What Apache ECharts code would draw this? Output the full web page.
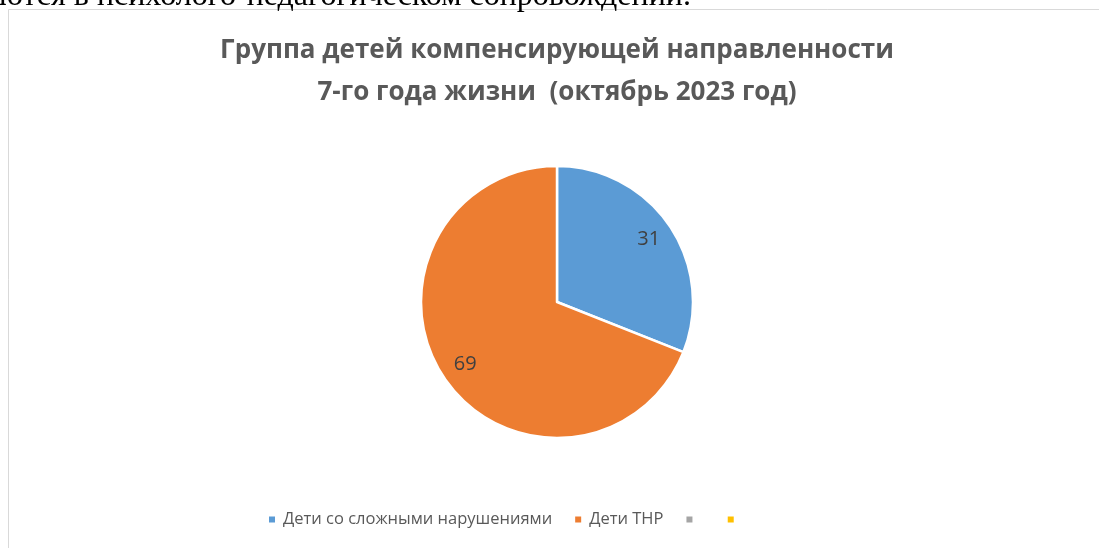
<!DOCTYPE html>
<html>
<head>
<meta charset="utf-8">
<script src="https://cdn.jsdelivr.net/npm/echarts@6/dist/echarts.min.js"></script>
<style>
html,body{margin:0;padding:0;background:#fff;}
#chart{width:1099px;height:548px;}
</style>
</head>
<body>
<div id="chart"></div>
<script>
const titleLines = ['Группа детей компенсирующей направленности', '7-го года жизни  (октябрь 2023 год)'];
const categories = ['Дети со сложными нарушениями', 'Дети ТНР', ' ', '  '];
const values = [31, 69, '-', '-'];
const colors = ['#5B9BD5', '#ED7D31', '#A5A5A5', '#FFC000'];
const pageText = 'ются в психолого-педагогическом сопровождении.';

const FONT = '"Open Sans", "Noto Sans", sans-serif';
const pieData = categories.map((c, i) => ({ name: c, value: values[i], itemStyle: { color: colors[i] } }));
const labelData = categories.map((c, i) => ({ name: c, value: values[i] }));

const chart = echarts.init(document.getElementById('chart'), null, { renderer: 'canvas' });
chart.setOption({
  backgroundColor: '#fff',
  animation: false,
  graphic: [
    { type: 'rect', shape: { x: 8.5, y: 9.5, width: 1200, height: 700 },
      style: { fill: 'none', stroke: '#D9D9D9', lineWidth: 1 }, silent: true, z: -10 },
    { type: 'text', x: -1, y: -19,
      style: { text: pageText, font: '32px "Liberation Serif", "DejaVu Serif", serif', fill: '#000' }, silent: true }
  ],
  title: {
    text: titleLines.join('\n'),
    left: 552,
    top: 25,
    textAlign: 'center',
    textStyle: { fontFamily: FONT, fontSize: 26, fontWeight: 'bold', color: '#595959', lineHeight: 42 }
  },
  legend: {
    bottom: 15,
    left: 262,
    icon: 'rect',
    itemWidth: 8,
    itemHeight: 8,
    itemGap: 21,
    data: categories,
    textStyle: { fontFamily: FONT, fontSize: 16.5, color: '#595959', padding: [0, 0, 0, 2] }
  },
  series: [
    {
      type: 'pie',
      center: [557, 302],
      radius: [0, 136],
      startAngle: 90,
      clockwise: true,
      data: pieData,
      label: { show: false },
      labelLine: { show: false },
      itemStyle: { borderColor: '#fff', borderWidth: 2.5 },
      emphasis: { disabled: true }
    },
    {
      type: 'pie',
      center: [557, 302],
      radius: [0, 216],
      startAngle: 90,
      clockwise: true,
      data: labelData,
      silent: true,
      itemStyle: { color: 'rgba(0,0,0,0)', borderWidth: 0 },
      label: { show: true, position: 'inside', formatter: '{c}', fontFamily: FONT, fontSize: 20, color: '#404040' },
      labelLine: { show: false },
      emphasis: { disabled: true },
      z: 3
    }
  ]
});
</script>
</body>
</html>
